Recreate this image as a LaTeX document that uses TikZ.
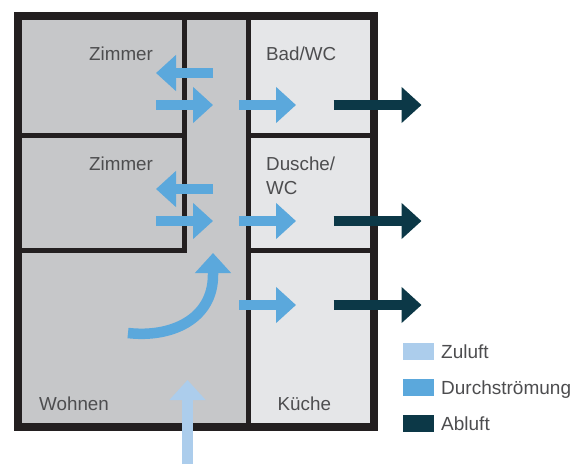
\documentclass[tikz,border=0pt]{standalone}
\usepackage{fontspec}
\setmainfont{Liberation Sans}
\usetikzlibrary{arrows.meta,positioning}
\definecolor{wallDraw}{HTML}{231F20}
\definecolor{roomDark}{HTML}{C6C7C9}
\definecolor{roomLight}{HTML}{E5E6E8}
\definecolor{zuFill}{HTML}{ACCDEC}
\definecolor{flowFill}{HTML}{5BA8DC}
\definecolor{abFill}{HTML}{0C3847}
\definecolor{textGrey}{HTML}{4D4D4F}
\tikzset{
  wall/.style   ={draw=wallDraw, line width=5pt},
  outer/.style  ={draw=wallDraw, line width=8pt, miter limit=10},
  air/.style    ={line width=10.5pt, -{Triangle[length=20pt,width=35pt]}},
  zuair/.style  ={air, draw=zuFill},
  flowair/.style={air, draw=flowFill},
  abair/.style  ={air, draw=abFill},
  room/.style   ={anchor=base west, inner sep=0pt, align=left, font=\fontsize{18.8}{24}\selectfont, text=textGrey},
  swatch/.style ={minimum width=31pt, minimum height=17pt, inner sep=0pt},
  keytext/.style={anchor=base west, inner sep=0pt, font=\fontsize{19}{20}\selectfont, text=textGrey},
}
\begin{document}
\begin{tikzpicture}[x=1pt, y=-1pt]
  \useasboundingbox (0,0) rectangle (581,464);
  % floor plan
  \fill[roomDark]  (18,16) rectangle (248,427);
  \fill[roomLight] (248,16) rectangle (373.5,427);
  \draw[wall] (184.5,16) -- (184.5,253);
  \draw[wall] (248,16) -- (248,427);
  \draw[wall] (18,135) -- (187,135);
  \draw[wall] (18,250.5) -- (187,250.5);
  \draw[wall] (248,135) -- (373.5,135);
  \draw[wall] (248,250.5) -- (373.5,250.5);
  \draw[outer] (18,16) rectangle (373.5,427);

  % room names
  \node[room] (zimmerA) at (89,60)   {Zimmer};
  \node[room] (zimmerB) at (89,170)  {Zimmer};
  \node[room] (bad)     at (266,60)  {Bad/WC};
  \node[room] (dusche)  at (266,194) {Dusche/\\WC};
  \node[room] (wohnen)  at (39,410)  {Wohnen};
  \node[room] (kueche)  at (277.5,410) {Küche};

  % air flow
  \foreach \y in {105,221}{
    \draw[flowair] (213,\y-32) -- (156,\y-32);
    \draw[flowair] (156,\y) -- (213,\y);
  }
  \foreach \y in {105,221,305}{
    \draw[flowair] (239,\y) -- (296,\y);
    \draw[abair] (333.5,\y) -- (421.5,\y);
  }
  \draw[flowair] (128,333) .. controls (170,338) and (213,320) .. (213,275) -- (213,253);
  \draw[zuair] (187.5,464) -- (187.5,380);

  % legend
  \node[swatch, fill=zuFill]   (zu)   at (418.5,351.5) {};
  \node[swatch, fill=flowFill] (flow) at (418.5,387.5) {};
  \node[swatch, fill=abFill]   (ab)   at (418.5,423.5) {};
  \node[keytext] (zuText)   at (441,358) {Zuluft};
  \node[keytext] (flowText) at (441,394) {Durchströmung};
  \node[keytext] (abText)   at (441,430) {Abluft};
\end{tikzpicture}
\end{document}
